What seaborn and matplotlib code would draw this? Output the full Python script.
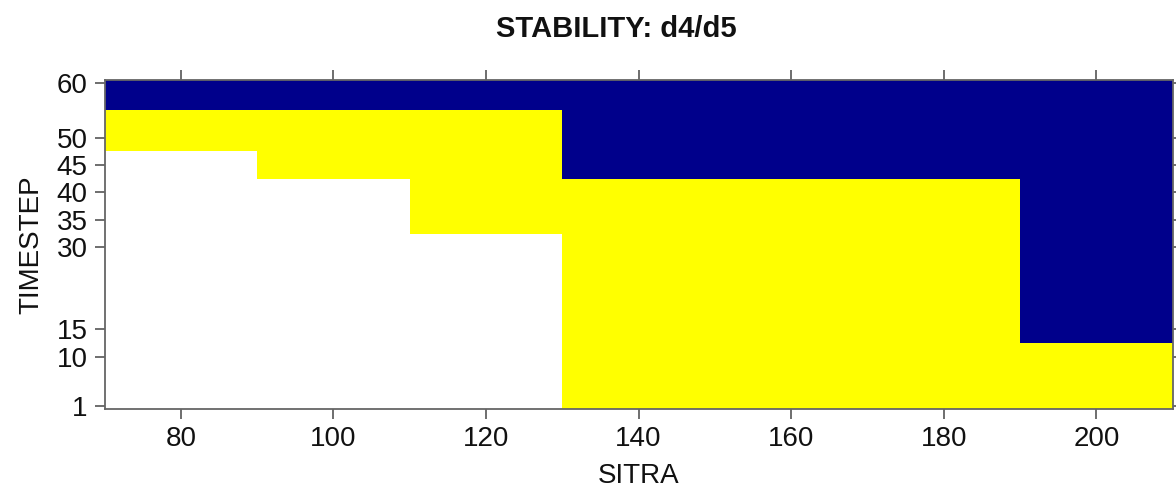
import numpy as np
import pandas as pd
import matplotlib
matplotlib.use("Agg")
import matplotlib.pyplot as plt
from matplotlib.colors import ListedColormap, BoundaryNorm
import seaborn as sns

# ---- data ----
sitra = [80, 100, 120, 140, 160, 180, 200]
timestep = [1, 10, 15, 30, 35, 40, 45, 50, 60]
# stability code per (timestep, sitra): 0 = none (white), 1 = yellow, 2 = navy
col_80 = [0, 0, 0, 0, 0, 0, 0, 1, 2]
col_100 = [0, 0, 0, 0, 0, 0, 1, 1, 2]
col_120 = [0, 0, 0, 0, 1, 1, 1, 1, 2]
col_140 = [1, 1, 1, 1, 1, 1, 2, 2, 2]
col_160 = [1, 1, 1, 1, 1, 1, 2, 2, 2]
col_180 = [1, 1, 1, 1, 1, 1, 2, 2, 2]
col_200 = [1, 1, 2, 2, 2, 2, 2, 2, 2]
state_colors = ["#ffffff", "#ffff00", "#00008b"]
x_ticks = [80, 100, 120, 140, 160, 180, 200]
y_ticks = [1, 10, 15, 30, 35, 40, 45, 50, 60]

df = pd.DataFrame(
    np.array([col_80, col_100, col_120, col_140, col_160, col_180, col_200]).T,
    index=timestep, columns=sitra)

sns.set_theme(style="ticks")
plt.rcParams["font.family"] = ["Liberation Sans", "DejaVu Sans"]
plt.rcParams["text.color"] = "black"
plt.rcParams["axes.labelcolor"] = "black"

fig = plt.figure(figsize=(11.76, 4.83), dpi=100)
ax = fig.add_axes([104.5 / 1176, 1 - 409 / 483, (1172.7 - 104.5) / 1176, (409 - 80) / 483])

xlim = (70, 210)
ylim = (0.5, 60.5)
xs = np.array(df.columns, dtype=float)
ys = np.array(df.index, dtype=float)
xe = np.concatenate([[xlim[0]], (xs[:-1] + xs[1:]) / 2, [xlim[1]]])
ye = np.concatenate([[ylim[0]], (ys[:-1] + ys[1:]) / 2, [ylim[1]]])

cmap = ListedColormap(sns.color_palette(state_colors))
norm = BoundaryNorm([-0.5, 0.5, 1.5, 2.5], cmap.N)
ax.pcolormesh(xe, ye, df.values, cmap=cmap, norm=norm, shading="flat")

ax.set_xlim(*xlim)
ax.set_ylim(*ylim)
ax.set_xticks(x_ticks)
ax.set_yticks(y_ticks)
ax.tick_params(axis="both", direction="out", length=7, width=1.2, color="#555555",
               labelsize=20, labelcolor="#111111", top=True, right=True,
               labeltop=False, labelright=False, pad=5)
for s in ax.spines.values():
    s.set_color("#666666")
    s.set_linewidth(1.3)
    s.set_visible(True)

ax.set_xlabel("SITRA", fontsize=20, labelpad=8, color="#111111")
ax.set_ylabel("TIMESTEP", fontsize=20, labelpad=9, color="#111111")
fig.text(616 / 1176, 1 - 29 / 483, "STABILITY: d4/d5", ha="center", va="center",
         fontsize=21, fontweight="bold", color="#111111")

fig.savefig("out.png", dpi=100)
